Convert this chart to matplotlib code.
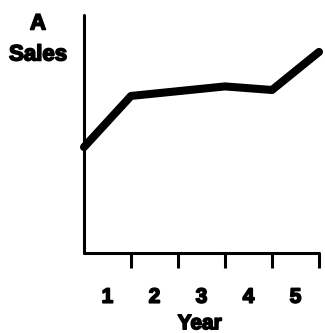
import matplotlib.pyplot as plt
import matplotlib.patheffects as pe
from matplotlib.ticker import FixedLocator

# sales level at the start of each year boundary (arbitrary units)
year_marks = [0, 1, 2, 3, 4, 5]
sales = [44.5, 66.0, 68.0, 70.0, 68.5, 84.5]
year_labels = ["1", "2", "3", "4", "5"]

plt.rcParams['font.family'] = ['Liberation Sans', 'DejaVu Sans']

# thicken the bold lettering a little
heavy = [pe.withStroke(linewidth=1.2, foreground='black')]

fig = plt.figure(figsize=(3.25, 3.33), dpi=100)
ax = fig.add_axes([0.2585, 0.2402, 0.7231, 0.7147])

ax.plot(year_marks, sales, color='black', lw=5.8,
        solid_joinstyle='round', solid_capstyle='round', clip_on=False)

ax.set_xlim(0, 5)
ax.set_ylim(0, 100)

for side in ['top', 'right']:
    ax.spines[side].set_visible(False)
for side in ['left', 'bottom']:
    ax.spines[side].set_linewidth(2.2)
    ax.spines[side].set_capstyle('round')

# tick marks on the year boundaries, labels centred inside each year
ax.xaxis.set_major_locator(FixedLocator(year_marks[1:]))
ax.xaxis.set_minor_locator(FixedLocator([m - 0.5 for m in year_marks[1:]]))
ax.set_xticklabels([], minor=False)
ax.set_xticklabels(year_labels, minor=True, fontsize=15, fontweight='heavy')
for lab in ax.get_xticklabels(minor=True):
    lab.set_path_effects(heavy)
ax.tick_params(axis='x', which='major', direction='out', length=11, width=2.2)
ax.tick_params(axis='x', which='minor', length=0, pad=25)
ax.set_yticks([])

fig.text(0.615, 0.028, "Year", ha='center', va='center', fontsize=15,
         fontweight='heavy', path_effects=heavy)
fig.text(0.117, 0.928, "A", ha='center', va='center', fontsize=16,
         fontweight='heavy', path_effects=heavy)
fig.text(0.117, 0.835, "Sales", ha='center', va='center', fontsize=16,
         fontweight='heavy', path_effects=heavy)

fig.savefig("out.png", dpi=100)
